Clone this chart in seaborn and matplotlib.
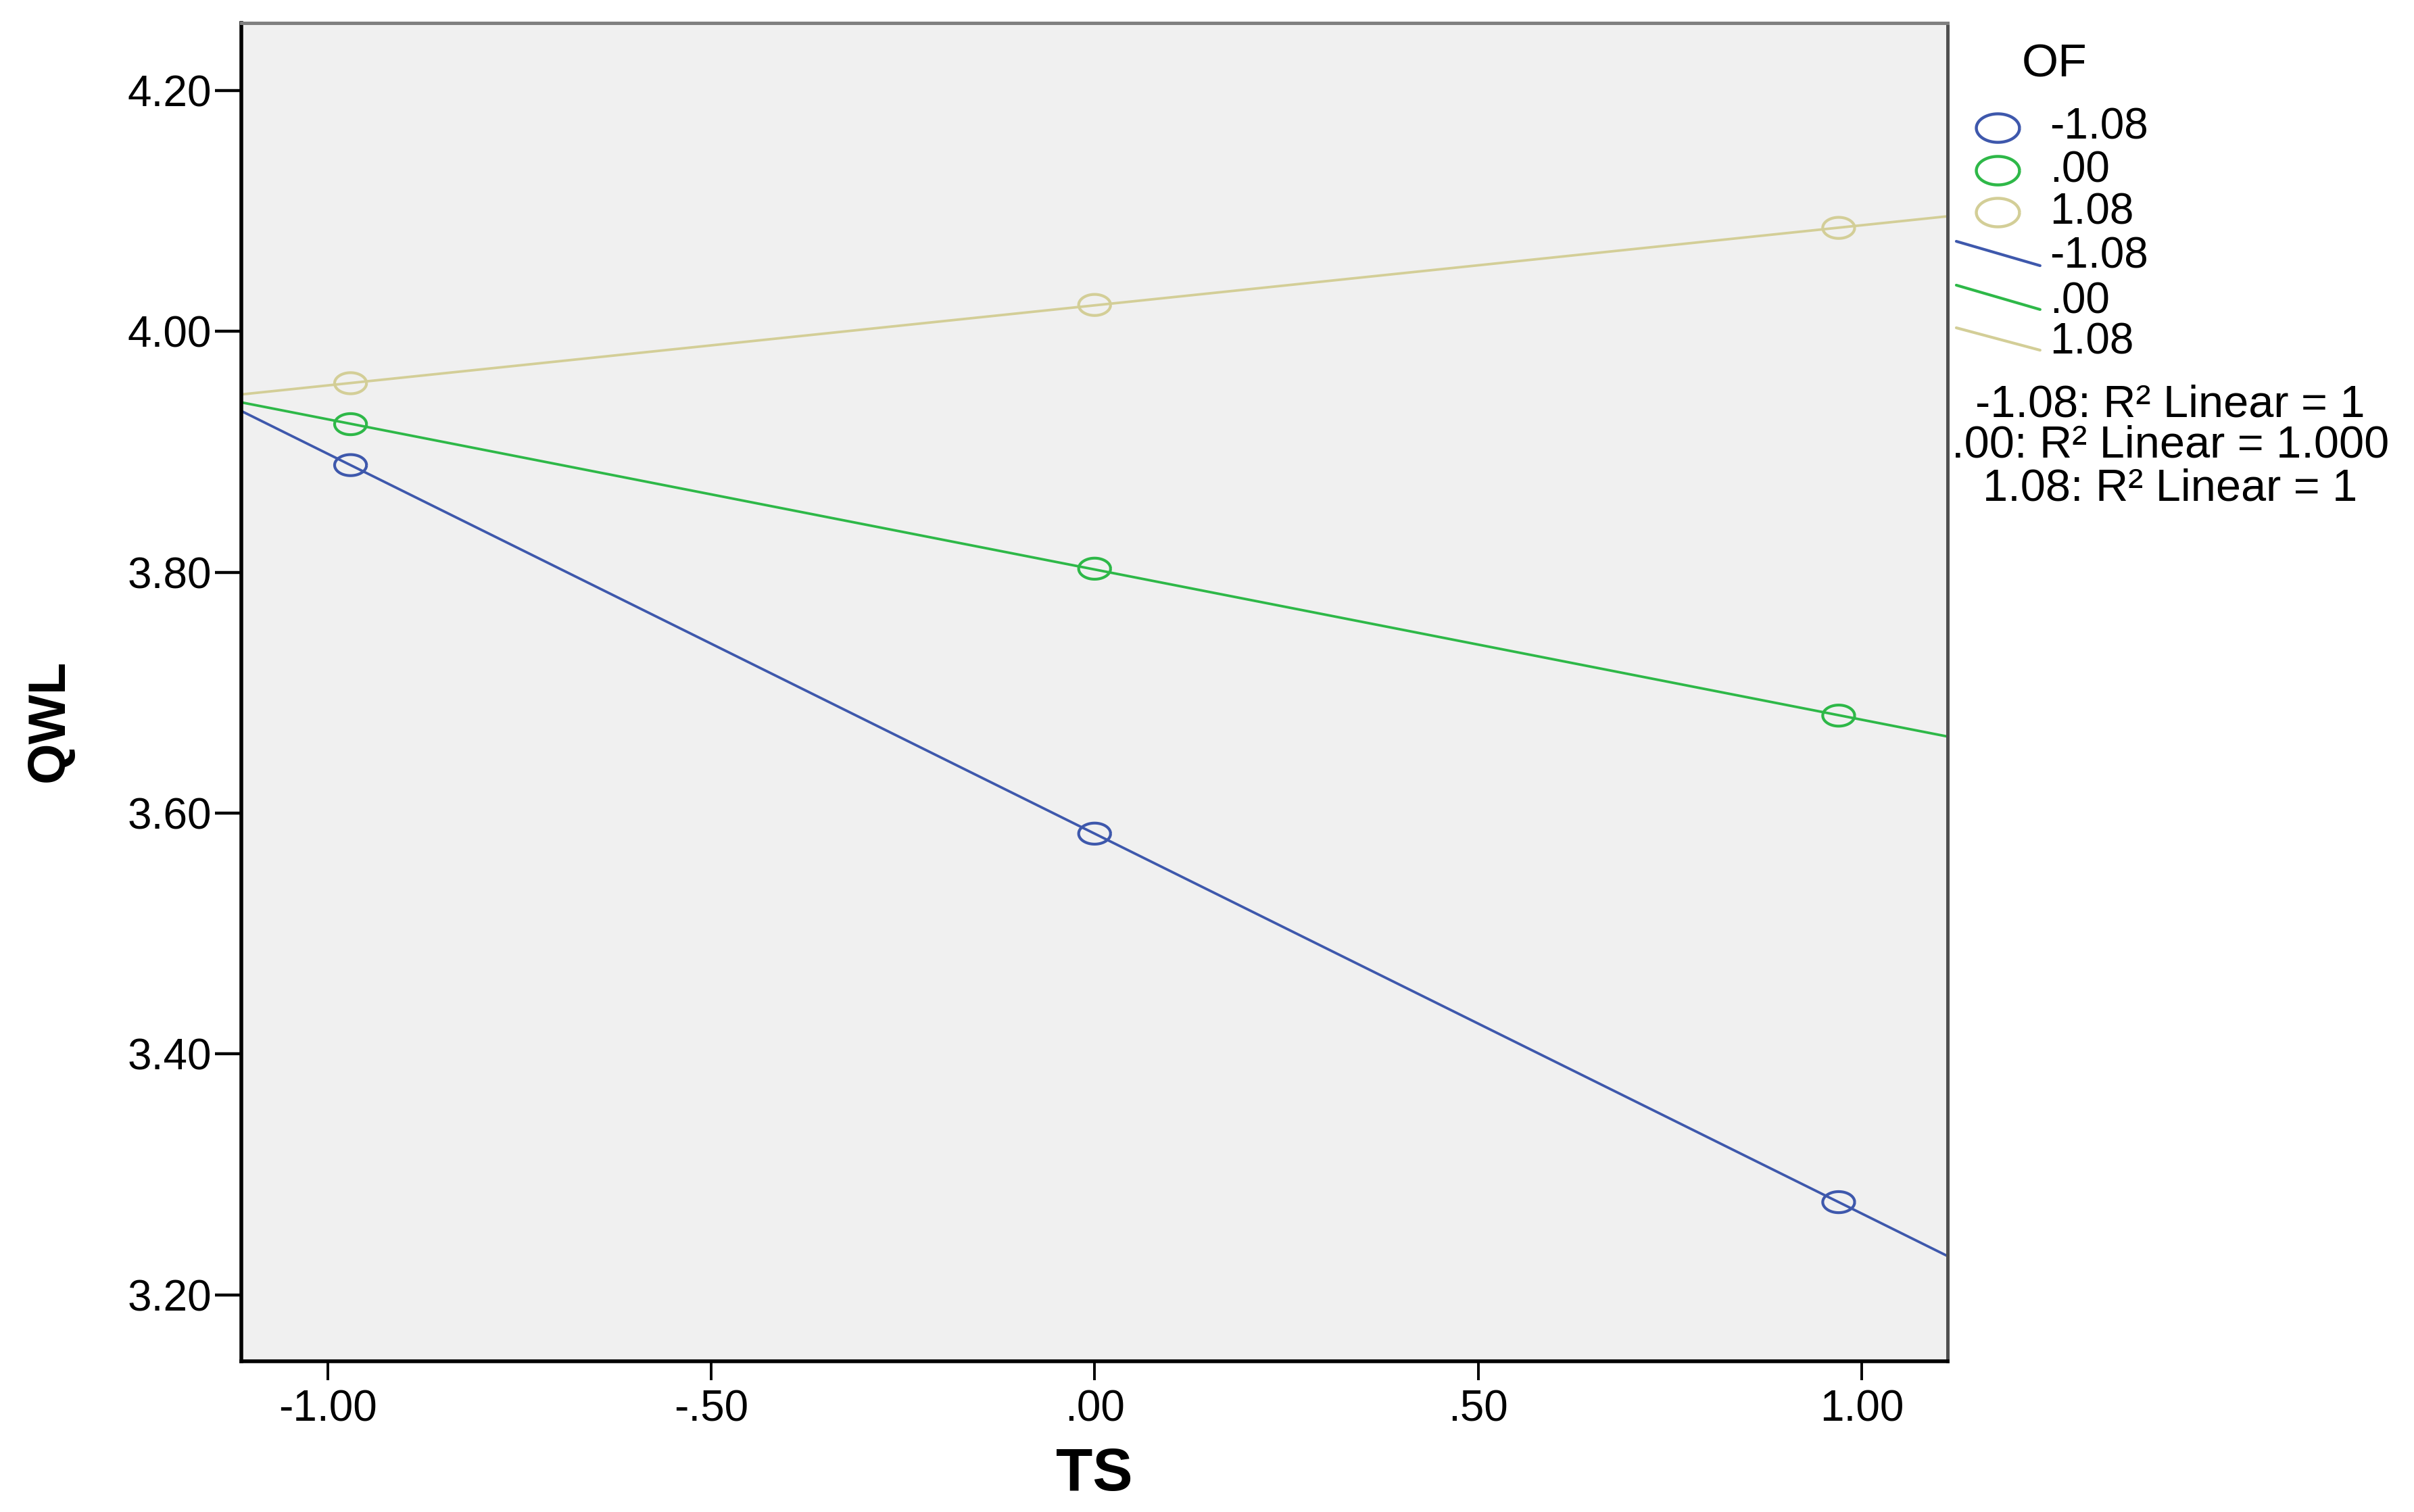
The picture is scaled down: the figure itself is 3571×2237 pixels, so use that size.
import numpy as np
import pandas as pd
import seaborn as sns
import matplotlib.pyplot as plt
from matplotlib.path import Path
from matplotlib.lines import Line2D
from matplotlib.transforms import Bbox, TransformedBbox

# ---------------- data ----------------
ts_levels = [-0.97, 0.00, 0.97]
of_levels = ["-1.08", ".00", "1.08"]
qwl_low = [3.889, 3.583, 3.277]    # OF = -1.08
qwl_mid = [3.923, 3.803, 3.681]    # OF = .00
qwl_high = [3.957, 4.022, 4.086]   # OF = 1.08
r2_labels = ["-1.08: R\u00b2 Linear = 1",
             ".00: R\u00b2 Linear = 1.000",
             "1.08: R\u00b2 Linear = 1"]
x_ticks = [-1.0, -0.5, 0.0, 0.5, 1.0]
x_ticklabels = ["-1.00", "-.50", ".00", ".50", "1.00"]
y_ticks = [3.2, 3.4, 3.6, 3.8, 4.0, 4.2]
y_ticklabels = ["3.20", "3.40", "3.60", "3.80", "4.00", "4.20"]
colors = ["#3E58AC", "#2EB848", "#D3CE97"]

df = pd.DataFrame({
    "TS": ts_levels * 3,
    "QWL": qwl_low + qwl_mid + qwl_high,
    "OF": [of_levels[0]] * 3 + [of_levels[1]] * 3 + [of_levels[2]] * 3,
})

# ---------------- style ----------------
sns.set_style("ticks")
plt.rcParams["font.family"] = ["Liberation Sans", "DejaVu Sans"]
plt.rcParams["text.color"] = "black"
plt.rcParams["axes.labelcolor"] = "black"

theta = np.linspace(0, 2 * np.pi, 73)
ell = Path(np.column_stack([np.cos(theta), 0.66 * np.sin(theta)]))

fig = plt.figure(figsize=(17.855, 11.185), dpi=200)
fig.patch.set_facecolor("white")
ax = fig.add_axes([0.1001, 0.0998, 0.7067, 0.8849])
ax.set_facecolor("#F0F0F0")

xlim = (-1.112, 1.112)
ylim = (3.145, 4.256)
ax.set_xlim(xlim)
ax.set_ylim(ylim)

for lev, col in zip(of_levels, colors):
    sub = df[df["OF"] == lev]
    sns.regplot(data=sub, x="TS", y="QWL", ax=ax, ci=None, truncate=False,
                color=col, marker=ell,
                scatter_kws=dict(s=17 ** 2, facecolors="none", linewidths=1.5,
                                 alpha=1, zorder=3),
                line_kws=dict(lw=1.35, alpha=1, zorder=2))

ax.set_xlim(xlim)
ax.set_ylim(ylim)
ax.set_xticks(x_ticks)
ax.set_xticklabels(x_ticklabels)
ax.set_yticks(y_ticks)
ax.set_yticklabels(y_ticklabels)
ax.tick_params(axis="y", length=14, width=1.6, color="black", pad=2,
               labelsize=23, labelcolor="black")
ax.tick_params(axis="x", length=10, width=1.4, color="black", pad=5,
               labelsize=23, labelcolor="black")

for side in ["left", "bottom"]:
    ax.spines[side].set_color("black")
    ax.spines[side].set_linewidth(2.0)
ax.spines["top"].set_color("#808080")
ax.spines["top"].set_linewidth(1.8)
ax.spines["right"].set_color("#505050")
ax.spines["right"].set_linewidth(1.8)
for s in ax.spines.values():
    s.set_visible(True)

ax.set_xlabel("TS", fontsize=32, fontweight="bold", va="center", ha="center")
ax.set_ylabel("QWL", fontsize=28, fontweight="bold", va="center", ha="center")
ax.xaxis.set_label_coords(0.5, -0.0852)
ax.yaxis.set_label_coords(-0.1128, 0.4787)

# ---------------- legend (SPSS style) ----------------
fig.text(0.851, 0.9575, "OF", fontsize=25, ha="center", va="center")
marker_y = [0.9156, 0.8873, 0.8596]
for y, col, lab in zip(marker_y, colors, of_levels):
    fig.add_artist(Line2D([0.8275], [y], transform=fig.transFigure, marker=ell,
                          markersize=23, markerfacecolor="none",
                          markeredgecolor=col, markeredgewidth=1.6,
                          linestyle="none"))
    fig.text(0.849, y, lab, fontsize=23, ha="left", va="center")

line_y0 = [0.8404, 0.8114, 0.7832]
line_y1 = [0.8243, 0.7953, 0.7684]
label_y = [0.8305, 0.8006, 0.7734]
for y0, y1, yl, col, lab in zip(line_y0, line_y1, label_y, colors, of_levels):
    fig.add_artist(Line2D([0.8104, 0.8451], [y0, y1], transform=fig.transFigure,
                          color=col, lw=1.5))
    fig.text(0.849, yl, lab, fontsize=23, ha="left", va="center")

legend_clip = TransformedBbox(Bbox([[0.8085, 0.0], [1.0, 1.0]]), fig.transFigure)
r2_y = [0.7318, 0.705, 0.6764]
for y, txt in zip(r2_y, r2_labels):
    t = fig.text(0.899, y, txt, fontsize=24, ha="center", va="center")
    t.set_clip_box(legend_clip)
    t.set_clip_on(True)

fig.savefig("out.png", dpi=200, facecolor="white")
